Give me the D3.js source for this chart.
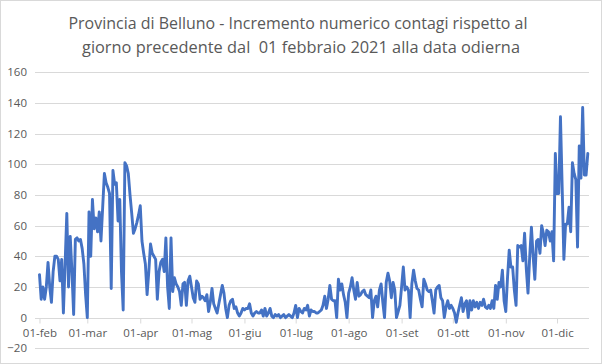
<!DOCTYPE html>
<html>
<head>
<meta charset="utf-8">
<script src="https://cdn.jsdelivr.net/npm/d3@7/dist/d3.min.js"></script>
<style>
  html, body { margin: 0; padding: 0; background: #ffffff; }
  svg { display: block; }
</style>
</head>
<body>
<svg id="chart" width="602" height="364"></svg>
<script>
// ---------------- DATA ----------------
const titleLines = [
  "Provincia di Belluno - Incremento numerico contagi rispetto al",
  "giorno precedente dal  01 febbraio 2021 alla data odierna"
];
const startDate = "2021-02-01";
const yTicks = [-20, 0, 20, 40, 60, 80, 100, 120, 140, 160];
const monthNames = ["gen", "feb", "mar", "apr", "mag", "giu", "lug", "ago", "set", "ott", "nov", "dic"];

// daily increments, one array per month
const feb = [28, 12, 20, 12, 20, 36, 20, 10, 30, 40, 40, 38, 24, 38, 3, 35, 68, 20, 53, 30, 2, 51, 52, 50, 51, 45, 35, 15];
const mar = [0, 69, 40, 77, 58, 65, 56, 69, 50, 72, 94, 88, 85, 81, 19, 96, 87, 88, 63, 77, 30, 5, 101, 99, 94, 80, 68, 55, 58, 62, 67];
const apr = [73, 50, 42, 35, 15, 30, 48, 42, 40, 38, 12, 30, 36, 38, 30, 52, 20, 6, 52, 17, 26, 22, 20, 17, 8, 22, 23, 8, 24, 27];
const mag = [20, 13, 10, 24, 22, 12, 14, 13, 11, 15, 4, 10, 19, 9, 6, 3, 9, 15, 21, 16, 6, 0, 8, 11, 12, 6, 7, 3, 1, 3, 6];
const giu = [5, 6, 6, 9, 3, 1, 3, 4, 3, 3, 5, 1, 6, 1, 3, 6, 1, 0, 2, 1, 2, 0, 1, 2, 0, 1, 2, 1, 0, 3];
const lug = [8, 0, 6, 4, 3, 6, 5, 8, 1, 5, 4, 4, 3, 3, 4, 5, 8, 14, 6, 12, 21, 12, 11, 11, 0, 25, 18, 22, 15, 10, 0];
const ago = [16, 20, 26, 18, 12, 23, 14, 15, 17, 18, 15, 14, 13, 18, 0, 11, 14, 7, 18, 22, 10, 0, 23, 29, 24, 13, 23, 18, 0, 4, 8];
const set = [20, 33, 18, 20, 18, 0, 22, 31, 24, 19, 18, 12, 7, 25, 22, 18, 17, 18, 11, 3, 18, 20, 21, 13, 11, 0, 7, 11, 6, 8];
const ott = [6, 3, -3, 3, 8, 13, 4, 9, 11, 0, 11, 5, 11, 7, 10, 6, 10, 8, 12, 7, 6, 8, 6, 11, 6, 21, 12, 23, 20, 31, 11];
const nov = [4, 26, 44, 33, 33, 18, 8, 47, 46, 47, 37, 55, 32, 16, 40, 59, 40, 25, 50, 51, 42, 60, 55, 47, 57, 56, 50, 56, 37, 107];
const dic = [81, 81, 131, 85, 38, 61, 61, 72, 56, 101, 94, 90, 46, 112, 91, 137, 93, 93, 107];

// ---------------- CHART ----------------
const W = 602, H = 364;
const svg = d3.select("#chart");
const font = "'Open Sans', 'Noto Sans', sans-serif";
const textColor = "#595959";
const gridColor = "#d9d9d9";

const values = [].concat(feb, mar, apr, mag, giu, lug, ago, set, ott, nov, dic);
const t0 = d3.utcParse("%Y-%m-%d")(startDate);
const data = values.map((v, i) => ({ date: d3.utcDay.offset(t0, i), value: v }));

const locale = d3.timeFormatLocale({
  dateTime: "%A %e %B %Y, %X", date: "%d/%m/%Y", time: "%H:%M:%S",
  periods: ["", ""],
  days: ["domenica", "lunedì", "martedì", "mercoledì", "giovedì", "venerdì", "sabato"],
  shortDays: ["dom", "lun", "mar", "mer", "gio", "ven", "sab"],
  months: ["gennaio", "febbraio", "marzo", "aprile", "maggio", "giugno", "luglio", "agosto", "settembre", "ottobre", "novembre", "dicembre"],
  shortMonths: monthNames
});
const fmt = locale.utcFormat("%d-%b");

// chart-area border
svg.append("rect")
  .attr("x", 0.5).attr("y", 0.5).attr("width", W - 1).attr("height", H - 1)
  .attr("fill", "#fff").attr("stroke", gridColor);

const plotL = 35, plotR = 589;
const x = d3.scaleUtc()
  .domain([d3.utcHour.offset(t0, -63), d3.utcHour.offset(t0, Math.round(321.7 * 24))])
  .range([plotL, plotR]);
const y = d3.scaleLinear().domain([-20, 160]).range([348.3, 72.3]);

// gridlines
svg.append("g").selectAll("line").data(yTicks).join("line")
  .attr("x1", plotL).attr("x2", plotR)
  .attr("y1", d => Math.round(y(d)) + 0.5).attr("y2", d => Math.round(y(d)) + 0.5)
  .attr("stroke", gridColor).attr("stroke-width", 1);

// y labels
const yAxis = d3.axisLeft(y).tickValues(yTicks).tickSize(0).tickPadding(0);
const gy = svg.append("g").attr("transform", `translate(27,0)`).call(yAxis);
gy.select(".domain").remove();
gy.selectAll("text").attr("fill", textColor).attr("font-family", font).attr("font-size", 11.5);

// x axis at zero
const monthTicks = d3.utcMonth.range(t0, d3.utcDay.offset(t0, 310));
const xAxis = d3.axisBottom(x).tickValues(monthTicks).tickFormat(fmt).tickSize(5).tickPadding(5).tickSizeOuter(0);
const gx = svg.append("g").attr("transform", `translate(0,${Math.round(y(0)) + 0.5})`).call(xAxis);
gx.select(".domain").attr("stroke", gridColor).attr("d", `M${plotL},0H${plotR}`);
gx.selectAll(".tick line").attr("stroke", gridColor);
gx.selectAll("text").attr("fill", textColor).attr("font-family", font).attr("font-size", 11.5);

// line
const line = d3.line().x(d => x(d.date)).y(d => y(d.value));
svg.append("path").datum(data)
  .attr("d", line)
  .attr("fill", "none")
  .attr("stroke", "#4472C4")
  .attr("stroke-width", 2.9)
  .attr("stroke-linejoin", "round")
  .attr("stroke-linecap", "round");

// title
const titleLen = [459, 438];
const titleX = [298, 301];
const titleY = [29, 53];
titleLines.forEach((t, i) => {
  svg.append("text")
    .attr("x", titleX[i]).attr("y", titleY[i])
    .attr("text-anchor", "middle")
    .attr("font-family", font).attr("font-size", 17)
    .attr("fill", textColor)
    .attr("textLength", titleLen[i]).attr("lengthAdjust", "spacingAndGlyphs")
    .style("white-space", "pre")
    .text(t);
});
</script>
</body>
</html>
